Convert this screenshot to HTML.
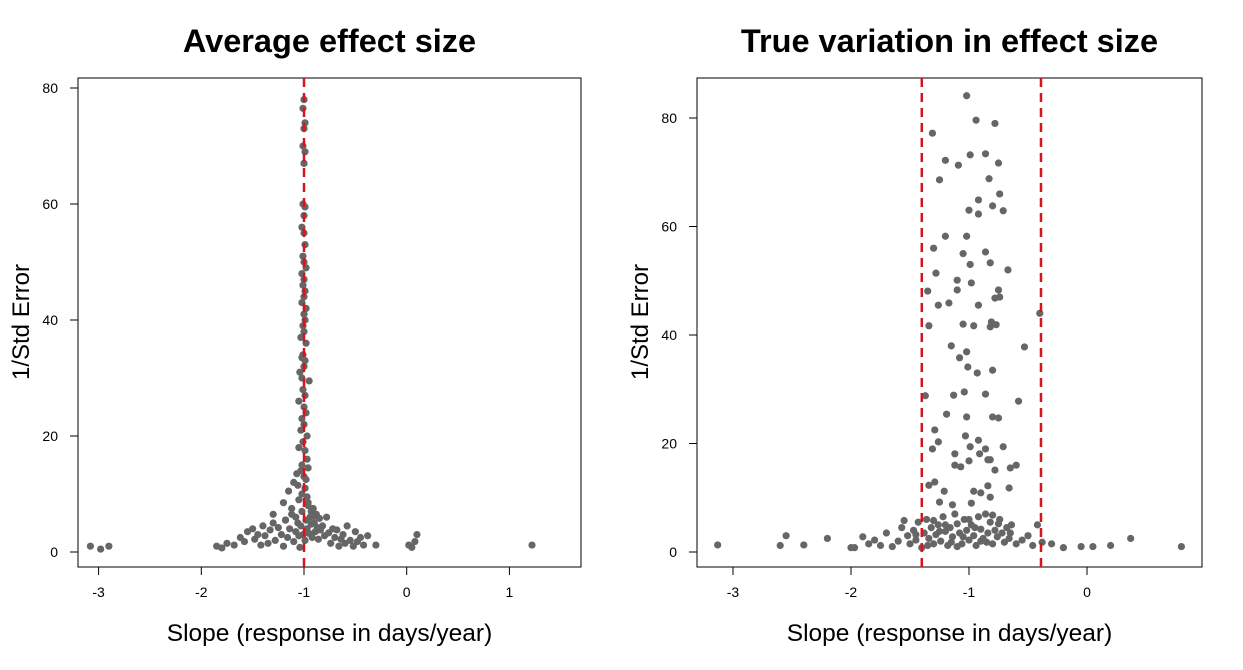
<!DOCTYPE html>
<html><head><meta charset="utf-8"><style>
body{margin:0;background:#fff}
svg text{font-family:"Liberation Sans",sans-serif;fill:#000}
</style></head><body>
<svg id="c" width="1243" height="665"></svg>
<script>
const leftX=[-1.0,-1.01,-0.99,-1.0,-1.01,-0.99,-1.0,-1.01,-0.99,-1.0,-1.02,-1.0,-0.99,-1.01,-1.0,-0.98,-1.02,-1.0,-1.01,-0.99,-1.0,-1.02,-0.98,-1.0,-0.99,-1.01,-1.0,-1.03,-0.98,-1.01,-1.02,-0.99,-1.0,-1.04,-1.02,-0.95,-1.01,-0.99,-1.05,-1.0,-0.98,-1.02,-1.0,-1.03,-0.97,-1.01,-1.05,-0.99,-0.97,-1.02,-0.96,-1.03,-1.07,-1.0,-0.98,-1.1,-1.06,-0.99,-1.15,-1.02,-0.97,-1.05,-1.2,-0.96,-1.12,-0.93,-1.3,-1.08,-0.9,-1.18,
-1.85,-1.8,-1.75,-1.68,-1.62,-1.58,-1.55,-1.5,-1.48,-1.45,-1.42,-1.4,-1.38,-1.35,-1.33,-1.3,-1.28,-1.25,-1.22,-1.2,-1.18,-1.16,-1.14,-1.12,-1.1,-1.08,-1.06,-1.05,-1.04,-1.03,-1.02,-1.01,-0.99,-0.98,-0.97,-0.96,-0.95,-0.94,-0.93,-0.92,-0.91,-0.9,-0.89,-0.88,-0.87,-0.86,-0.85,-0.84,-0.82,-0.8,-0.78,-0.76,-0.74,-0.72,-0.7,-0.68,-0.66,-0.64,-0.62,-0.6,-0.58,-0.55,-0.52,-0.5,-0.48,-0.45,-0.42,-0.38,-0.3,0.02,0.05,0.08,0.1,1.22,-3.08,-2.98,-2.9];
const leftY=[78,76.5,74,73,70,69,67,60,59.5,58,56,55,53,51,50,49,48,47,46,45,44,43,42,41,40,39,38,37,36,34,33.5,33,32,31,30,29.5,28,27,26,25,24,23,22,21,20,19,18,17.5,16,15,14.5,14,13.5,13,12.5,12,11.5,11,10.5,10,9.5,9,8.5,8,7.5,7,6.5,6,6.2,5.5,
1,0.7,1.5,1.2,2.5,1.8,3.5,4,2.2,3,1.2,4.5,2.8,1.5,3.8,5,2,4.2,3,1,5.5,2.5,4,6.5,1.8,3.5,5,2.8,0.8,4.5,7,3,2,5.5,4,8.5,3.2,6,4.8,2.5,7.5,5,3.5,6.5,4.2,2.2,5.8,3.8,4.5,2.8,6,3.3,1.5,4,2.5,3.8,1,2.2,3,1.5,4.5,2,1,3.5,1.8,2.5,1.2,2.8,1.2,1.2,0.8,1.8,3,1.2,1,0.5,1];
const rightX=[-1.02,-0.94,-0.78,-1.31,-1.2,-1.09,-0.99,-0.86,-0.75,-1.25,-0.83,-0.74,-0.92,-0.8,-1.0,-0.92,-0.71,-1.2,-1.02,-1.3,-1.05,-0.86,-0.82,-0.99,-0.67,-1.28,-1.1,-0.98,-1.1,-0.75,-1.35,-0.74,-0.78,-1.17,-1.26,-0.92,-0.4,-0.81,-1.34,-1.05,-0.96,-0.77,-0.82,
-1.15,-1.02,-1.08,-1.01,-0.93,-0.8,-0.53,-1.37,-1.13,-1.04,-0.86,-0.58,-1.19,-1.02,-0.8,-0.75,-1.29,-1.26,-1.31,-1.03,-0.99,-0.91,-0.86,-0.92,-1.12,-1.07,-1.12,-1.0,-0.84,-0.78,-0.65,-0.6,-0.71,-0.82,-1.34,-1.29,-1.21,-0.96,-0.9,-0.84,-0.66,-1.25,-0.98,-0.82,-1.14,
-3.13,-2.6,-2.55,-2.4,-2.2,-2.0,-1.97,-1.9,-1.85,-1.8,-1.75,-1.7,-1.65,-1.6,-1.57,-1.55,-1.52,-1.5,-1.47,-1.45,-1.43,-1.4,-1.38,-1.36,-1.34,-1.32,-1.3,-1.28,-1.26,-1.24,-1.22,-1.2,-1.18,-1.16,-1.14,-1.12,-1.1,-1.08,-1.06,-1.04,-1.02,-1.0,-0.98,-0.96,-0.94,-0.92,-0.9,-0.88,-0.86,-0.84,-0.82,-0.8,-0.78,-0.76,-0.74,-0.72,-0.7,-0.68,-0.66,-0.64,-0.6,-0.55,-0.5,-0.46,-0.42,-0.38,-0.3,-0.2,-0.05,0.05,0.2,0.37,0.8,
-1.15,-1.05,-0.95,-0.85,-1.25,-1.35,-1.45,-0.75,-0.65,-1.2,-1.0,-0.9,-1.1,-0.8,-1.3];
const rightY=[84.1,79.6,79,77.2,72.2,71.3,73.2,73.4,71.7,68.6,68.8,66,64.9,63.8,63,62.3,62.9,58.2,58.2,56,55,55.3,53.3,53,52,51.4,50.1,49.6,48.3,48.3,48.1,47,46.8,45.9,45.5,45.5,44,42.4,41.7,42,41.7,41.9,41.5,
38,36.9,35.8,34.1,33,33.5,37.8,28.8,28.9,29.5,29.1,27.8,25.4,24.9,24.9,24.7,22.5,20.3,19,21.4,19.4,18.1,19,20.6,18.1,15.7,16,16.8,17,15.1,15.5,16,19.4,17,12.3,12.9,11.2,11.2,10.9,12.2,11.8,9.2,9,10.1,8.7,
1.3,1.2,3,1.3,2.5,0.8,0.8,2.8,1.5,2.2,1.2,3.5,1,2,4.5,5.8,3,1.5,4,2.2,5.5,0.8,3.5,6,2.5,4.5,1.5,3.2,5,2,6.5,3.8,1.2,4.5,2.8,7,5.2,3.5,1.5,6,4,2.2,5,3,1.2,6.5,4.2,2.5,7,3.5,5.5,1.5,4,2.8,6,3.5,1.8,4.5,2.5,5,1.5,2.2,3,1.2,5,1.8,1.5,0.8,1,1,1.2,2.5,1,
1.8,2.8,4.5,1.8,3.8,1.2,3.2,5.2,3.5,5,6,2,1,6.8,5.8];
const leftXTicks=[-3,-2,-1,0,1], leftYTicks=[0,20,40,60,80];
const rightXTicks=[-3,-2,-1,0], rightYTicks=[0,20,40,60,80];
const leftVLines=[-1], rightVLines=[-1.4,-0.39];

const svg=document.getElementById('c');
const NS='http://www.w3.org/2000/svg';
function mk(t,a,p){const e=document.createElementNS(NS,t);for(const k in a)e.setAttribute(k,a[k]);(p||svg).appendChild(e);return e;}
function panel(o){
  const g=mk('g',{});
  
  
  const sx=v=>o.x0px+(v-o.x0v)*o.xs, sy=v=>o.y0px-v*o.ys;
  const box=mk('rect',{x:o.L,y:78,width:o.R-o.L,height:489,fill:'none',stroke:'#000','stroke-width':1},g);
  
  const t=mk('text',{x:(o.L+o.R)/2,y:52,'text-anchor':'middle','font-size':32.5,'font-weight':'bold'},g);t.textContent=o.title;
  
  o.xt.forEach(v=>{mk('line',{x1:sx(v),x2:sx(v),y1:567,y2:575,stroke:'#000'},g);
    const l=mk('text',{x:sx(v),y:597,'text-anchor':'middle','font-size':14},g);l.textContent=v;
    });
  o.yt.forEach(v=>{mk('line',{x1:o.L,x2:o.L-8,y1:sy(v),y2:sy(v),stroke:'#000'},g);
    const l=mk('text',{x:o.L-20,y:sy(v)+5,'text-anchor':'end','font-size':14},g);l.textContent=v;
    });
  const xl=mk('text',{x:(o.L+o.R)/2,y:641,'text-anchor':'middle','font-size':24.5},g);xl.textContent='Slope (response in days/year)';
  
  const yx=o.L-49;
  const yl=mk('text',{x:yx,y:322,'text-anchor':'middle','font-size':24,transform:`rotate(-90 ${yx} 322)`},g);yl.textContent='1/Std Error';
  
  o.xs_.forEach((v,i)=>{const c=mk('circle',{cx:sx(v),cy:sy(o.ys_[i]),r:3.6,fill:'#666'},g);
    });
  o.vl.forEach(v=>{const l=mk('line',{x1:sx(v),x2:sx(v),y1:78,y2:567,stroke:'#d4151b','stroke-width':2.5,'stroke-dasharray':'9,6'},g);
    });
}
panel({name:'left-panel',title:'Average effect size',L:78,R:581,x0px:304,x0v:-1,xs:102.7,y0px:552,ys:5.8,xt:leftXTicks,yt:leftYTicks,xs_:leftX,ys_:leftY,vl:leftVLines});
panel({name:'right-panel',title:'True variation in effect size',L:697,R:1202,x0px:969,x0v:-1,xs:118,y0px:552,ys:5.425,xt:rightXTicks,yt:rightYTicks,xs_:rightX,ys_:rightY,vl:rightVLines});
</script>
</body></html>
